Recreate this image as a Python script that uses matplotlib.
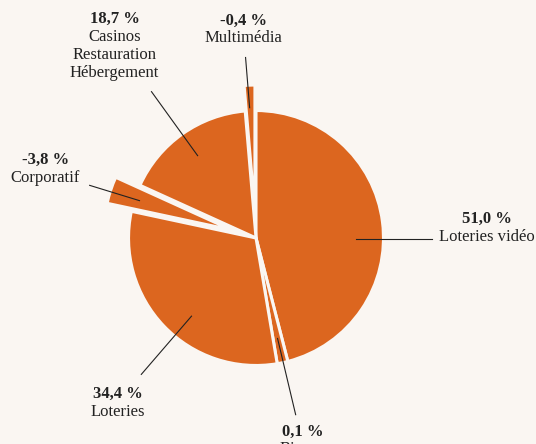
import numpy as np
import matplotlib.pyplot as plt

plt.rcParams['font.family'] = ['Liberation Serif', 'DejaVu Serif']

# data
segments = ['Loteries vidéo', 'Bingos', 'Loteries', 'Corporatif',
            'Casinos\nRestauration\nHébergement', 'Multimédia']
values = [51.0, 0.1, 34.4, -3.8, 18.7, -0.4]
pct_labels = ['51,0 %', '0,1 %', '34,4 %', '-3,8 %', '18,7 %', '-0,4 %']
exploded = [0, 0, 0, 0.2, 0, 0.2]

# tiny slices are drawn with a minimum width, as in the original
sizes = [max(abs(v), 1.5) for v in values]

bg = '#faf6f2'
orange = '#dc661f'
ink = '#222222'

fig = plt.figure(figsize=(5.36, 4.44), dpi=100, facecolor=bg)
ax = fig.add_axes([0, 0, 1, 1])
ax.set_facecolor(bg)

ax.pie(sizes, explode=exploded, startangle=90, counterclock=False,
       colors=[orange] * len(sizes), radius=1.0,
       wedgeprops=dict(edgecolor=bg, linewidth=2.2))

ax.set_xlim(-2.008, 2.196)
ax.set_ylim(-1.616, 1.867)
ax.set_aspect('equal')
ax.axis('off')

# label layout (x, y of the percent line) and leader lines (from, to)
label_pos = [(1.810, 0.151), (0.370, -1.518), (-1.082, -1.222),
             (-1.651, 0.612), (-1.110, 1.719), (-0.099, 1.706)]
leaders = [((1.384, -0.010), (0.781, -0.010)),
           ((0.311, -1.386), (0.169, -0.788)),
           ((-0.900, -1.070), (-0.506, -0.613)),
           ((-1.305, 0.413), (-0.914, 0.293)),
           ((-0.820, 1.148), (-0.458, 0.646)),
           ((-0.082, 1.416), (-0.050, 1.022))]

step = 0.141
for name, pct, (x, y), (p0, p1) in zip(segments, pct_labels, label_pos, leaders):
    ax.text(x, y, pct, ha='center', va='center', fontsize=12,
            fontweight='bold', color=ink)
    for i, line in enumerate(name.split('\n')):
        ax.text(x, y - step * (i + 1), line, ha='center', va='center',
                fontsize=12, color=ink)
    ax.plot([p0[0], p1[0]], [p0[1], p1[1]], color=ink, lw=0.8)

fig.savefig('out.png', dpi=100, facecolor=bg)
